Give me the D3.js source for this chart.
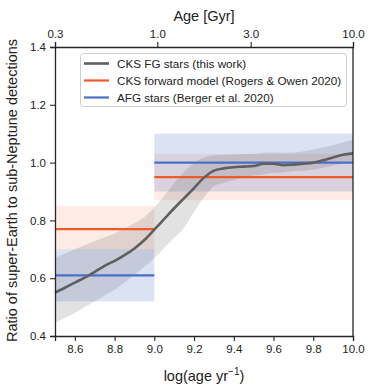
<!DOCTYPE html>
<html>
<head>
<meta charset="utf-8">
<script src="https://cdn.jsdelivr.net/npm/d3@7"></script>
<style>
  html, body { margin: 0; padding: 0; background: #fff; }
  svg { display: block; font-family: "Liberation Sans", Arial, sans-serif; }
</style>
</head>
<body>
<svg id="chart" width="374" height="391"></svg>
<script>
// ---- data ----
const logAge = [8.50, 8.55, 8.60, 8.65, 8.70, 8.75, 8.80, 8.85, 8.90, 8.95, 9.00, 9.05, 9.10, 9.15, 9.20, 9.25, 9.30, 9.35, 9.40, 9.45, 9.50, 9.55, 9.60, 9.65, 9.70, 9.75, 9.80, 9.85, 9.90, 9.95, 10.00];
const ratioMedian = [0.550, 0.567, 0.585, 0.602, 0.622, 0.643, 0.660, 0.680, 0.703, 0.732, 0.768, 0.805, 0.842, 0.877, 0.912, 0.948, 0.972, 0.980, 0.984, 0.986, 0.988, 0.996, 0.996, 0.991, 0.993, 0.996, 1.000, 1.008, 1.018, 1.027, 1.032];
const ratioUpper = [0.672, 0.685, 0.700, 0.715, 0.728, 0.742, 0.755, 0.772, 0.790, 0.812, 0.845, 0.885, 0.930, 0.968, 0.998, 1.018, 1.025, 1.027, 1.028, 1.030, 1.031, 1.034, 1.035, 1.034, 1.035, 1.038, 1.045, 1.052, 1.060, 1.070, 1.078];
const ratioLower = [0.445, 0.462, 0.480, 0.500, 0.520, 0.540, 0.560, 0.585, 0.612, 0.640, 0.670, 0.705, 0.740, 0.775, 0.830, 0.880, 0.918, 0.930, 0.940, 0.948, 0.955, 0.960, 0.965, 0.967, 0.970, 0.972, 0.975, 0.982, 0.990, 0.996, 1.000];

// binned model values: [xStart, xEnd]
const binEdges = [[8.5, 9.0], [9.0, 10.0]];
const forwardModel = [0.77, 0.95];
const forwardLow = [0.70, 0.87];
const forwardHigh = [0.85, 1.03];
const afgStars = [0.61, 1.00];
const afgLow = [0.52, 0.90];
const afgHigh = [0.70, 1.10];

const xTicks = [8.6, 8.8, 9.0, 9.2, 9.4, 9.6, 9.8, 10.0];
const yTicks = [0.4, 0.6, 0.8, 1.0, 1.2, 1.4];
const topTicks = [0.3, 1.0, 3.0, 10.0];

const legendLabels = ["CKS FG stars (this work)", "CKS forward model (Rogers & Owen 2020)", "AFG stars (Berger et al. 2020)"];
const colors = { gray: "#5f5f5f", orange: "#f2592a", blue: "#4a6fc6" };

// ---- layout ----
const L = 55, R = 353, T = 47, B = 336;
const svg = d3.select("#chart");
const x = d3.scaleLinear().domain([8.5, 10.0]).range([L, R]);
const y = d3.scaleLinear().domain([0.4, 1.4]).range([B, T]);
const xTop = d3.scaleLog().domain([0.3, 10]).range([L, R]);

const textColor = "#222";
const fontTick = "11.5px";

// bands
const g = svg.append("g");
binEdges.forEach((e, i) => {
  g.append("rect").attr("x", x(e[0])).attr("width", x(e[1]) - x(e[0]))
    .attr("y", y(forwardHigh[i])).attr("height", y(forwardLow[i]) - y(forwardHigh[i]))
    .attr("fill", colors.orange).attr("fill-opacity", 0.12);
  g.append("rect").attr("x", x(e[0])).attr("width", x(e[1]) - x(e[0]))
    .attr("y", y(afgHigh[i])).attr("height", y(afgLow[i]) - y(afgHigh[i]))
    .attr("fill", colors.blue).attr("fill-opacity", 0.2);
});

const pts = logAge.map((a, i) => ({ a, m: ratioMedian[i], lo: ratioLower[i], hi: ratioUpper[i] }));
g.append("path").datum(pts)
  .attr("d", d3.area().x(d => x(d.a)).y0(d => y(d.lo)).y1(d => y(d.hi)).curve(d3.curveMonotoneX))
  .attr("fill", "#555").attr("fill-opacity", 0.17);

binEdges.forEach((e, i) => {
  g.append("line").attr("x1", x(e[0])).attr("x2", x(e[1]))
    .attr("y1", y(forwardModel[i])).attr("y2", y(forwardModel[i]))
    .attr("stroke", colors.orange).attr("stroke-width", 2.2);
  g.append("line").attr("x1", x(e[0])).attr("x2", x(e[1]))
    .attr("y1", y(afgStars[i])).attr("y2", y(afgStars[i]))
    .attr("stroke", colors.blue).attr("stroke-width", 2.2);
});

g.append("path").datum(pts)
  .attr("d", d3.line().x(d => x(d.a)).y(d => y(d.m)).curve(d3.curveMonotoneX))
  .attr("fill", "none").attr("stroke", colors.gray).attr("stroke-width", 2.6);

// axes
function styleAxis(sel) {
  sel.selectAll("path").attr("stroke", "#262626").attr("stroke-width", 1.3);
  sel.selectAll("line").attr("stroke", "#262626").attr("stroke-width", 1.1);
  sel.selectAll("text").attr("fill", textColor).style("font-size", fontTick)
    .style("font-family", '"Liberation Sans", Arial, sans-serif');
}
const xAxis = svg.append("g").attr("transform", `translate(0,${B})`)
  .call(d3.axisBottom(x).tickValues(xTicks).tickFormat(d3.format(".1f")).tickSizeOuter(0).tickSize(5).tickPadding(4));
styleAxis(xAxis);
const yAxis = svg.append("g").attr("transform", `translate(${L},0)`)
  .call(d3.axisLeft(y).tickValues(yTicks).tickFormat(d3.format(".1f")).tickSizeOuter(0).tickSize(5).tickPadding(4));
styleAxis(yAxis);
const topAxis = svg.append("g").attr("transform", `translate(0,${T})`)
  .call(d3.axisTop(xTop).tickValues(topTicks).tickFormat(d3.format(".1f")).tickSizeOuter(0).tickSize(5).tickPadding(4));
styleAxis(topAxis);
// right spine
svg.append("line").attr("x1", R).attr("x2", R).attr("y1", T).attr("y2", B)
  .attr("stroke", "#262626").attr("stroke-width", 1.3);

// axis labels
const xl = svg.append("text").attr("x", (L + R) / 2).attr("y", 381).attr("text-anchor", "middle")
  .attr("fill", textColor).style("font-size", "14.5px");
xl.append("tspan").text("log(age yr");
xl.append("tspan").text("\u22121").attr("dy", -6).style("font-size", "10px");
xl.append("tspan").text(")").attr("dy", 6);

svg.append("text").attr("x", (L + R) / 2).attr("y", 21).attr("text-anchor", "middle")
  .attr("fill", textColor).style("font-size", "14.5px").text("Age [Gyr]");

svg.append("text").attr("transform", `translate(17,${(38 + 343) / 2}) rotate(-90)`)
  .attr("text-anchor", "middle").attr("fill", textColor).style("font-size", "14.5px")
  .text("Ratio of super-Earth to sub-Neptune detections");

// legend
const lg = svg.append("g");
lg.append("rect").attr("x", 80.5).attr("y", 53.5).attr("width", 266).attr("height", 53)
  .attr("rx", 3).attr("fill", "#fff").attr("fill-opacity", 0.8).attr("stroke", "#d0d0d0").attr("stroke-width", 1);
const legColors = [colors.gray, colors.orange, colors.blue];
legendLabels.forEach((lab, i) => {
  const yy = 63.5 + i * 17;
  lg.append("line").attr("x1", 84).attr("x2", 109).attr("y1", yy).attr("y2", yy)
    .attr("stroke", legColors[i]).attr("stroke-width", i === 0 ? 2.6 : 2.2);
  lg.append("text").attr("x", 117).attr("y", yy + 4).attr("fill", textColor)
    .style("font-size", "11.7px").text(lab);
});
</script>
</body>
</html>
